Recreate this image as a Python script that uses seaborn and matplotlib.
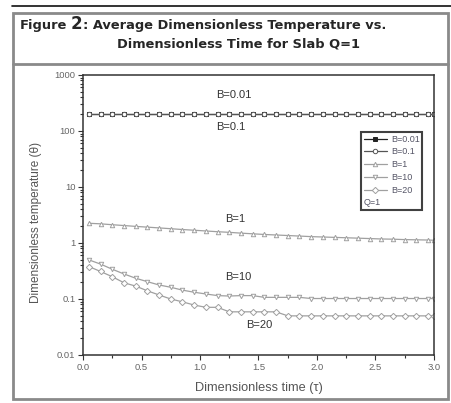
import matplotlib.pyplot as plt
import matplotlib.patches as mpatches
from matplotlib.lines import Line2D
from matplotlib.ticker import MultipleLocator, FixedLocator, LogLocator, NullFormatter
import pandas as pd
import seaborn as sns

sns.set_style("ticks")
plt.rcParams['font.family'] = ['Liberation Sans', 'DejaVu Sans']

# dimensionless time (tau)
tau = [0.05, 0.15, 0.25, 0.35, 0.45, 0.55, 0.65, 0.75, 0.85, 0.95,
       1.05, 1.15, 1.25, 1.35, 1.45, 1.55, 1.65, 1.75, 1.85, 1.95,
       2.05, 2.15, 2.25, 2.35, 2.45, 2.55, 2.65, 2.75, 2.85, 2.95, 3.0]

# average dimensionless temperature for each Biot number
theta_b001 = [205, 205, 205, 205, 205, 205, 205, 205, 205, 205,
              205, 205, 205, 205, 205, 205, 205, 205, 205, 205,
              205, 205, 205, 205, 205, 205, 205, 205, 205, 205, 205]
theta_b01 = [204, 204, 204, 204, 204, 204, 204, 204, 204, 204,
             204, 204, 204, 204, 204, 204, 204, 204, 204, 204,
             204, 204, 204, 204, 204, 204, 204, 204, 204, 204, 204]
theta_b1 = [2.25, 2.2, 2.12, 2.05, 1.98, 1.92, 1.86, 1.8, 1.74, 1.69,
            1.64, 1.59, 1.55, 1.5, 1.46, 1.42, 1.39, 1.36, 1.33, 1.3,
            1.28, 1.26, 1.24, 1.22, 1.2, 1.18, 1.17, 1.15, 1.14, 1.13, 1.12]
theta_b10 = [0.50, 0.42, 0.34, 0.28, 0.235, 0.204, 0.178, 0.162, 0.144, 0.132,
             0.123, 0.115, 0.113, 0.115, 0.115, 0.107, 0.107, 0.107, 0.107, 0.102,
             0.102, 0.102, 0.102, 0.102, 0.102, 0.102, 0.102, 0.102, 0.102, 0.102, 0.102]
theta_b20 = [0.38, 0.31, 0.25, 0.195, 0.17, 0.14, 0.118, 0.10, 0.089, 0.078,
             0.071, 0.071, 0.059, 0.059, 0.059, 0.059, 0.059, 0.05, 0.05, 0.05,
             0.05, 0.05, 0.05, 0.05, 0.05, 0.05, 0.05, 0.05, 0.05, 0.05, 0.05]

labels = ['B=0.01', 'B=0.1', 'B=1', 'B=10', 'B=20']
values = [theta_b001, theta_b01, theta_b1, theta_b10, theta_b20]

rows = []
for lab, vals in zip(labels, values):
    for t, v in zip(tau, vals):
        rows.append({'B': lab, 'tau': t, 'theta': v})
df = pd.DataFrame(rows)

# marker, line colour, face colour
styles = {
    'B=0.01': ('s', '#222222', '#222222'),
    'B=0.1': ('o', '#555555', 'white'),
    'B=1': ('^', '#a0a0a0', 'white'),
    'B=10': ('v', '#a0a0a0', 'white'),
    'B=20': ('D', '#a0a0a0', 'white'),
}

W, H = 452, 403
fig = plt.figure(figsize=(W / 100, H / 100), dpi=100)
ax = fig.add_axes([83 / W, 1 - 355 / H, (434 - 83) / W, (355 - 75) / H])

for lab in labels:
    m, c, fc = styles[lab]
    sub = df[df['B'] == lab]
    sns.lineplot(data=sub, x='tau', y='theta', ax=ax, color=c, marker=m,
                 markersize=3.2, markerfacecolor=fc, markeredgecolor=c,
                 markeredgewidth=0.7, linewidth=0.9, estimator=None, legend=False)

ax.set_yscale('log')
ax.set_ylim(0.01, 1000)
ax.set_xlim(0, 3.0)
ax.yaxis.set_major_locator(FixedLocator([0.01, 0.1, 1, 10, 100, 1000]))
ax.set_yticklabels(['0.01', '0.1', '1', '10', '100', '1000'])
ax.yaxis.set_minor_locator(LogLocator(base=10, subs=range(2, 10)))
ax.yaxis.set_minor_formatter(NullFormatter())
ax.xaxis.set_major_locator(MultipleLocator(0.5))
ax.xaxis.set_minor_locator(MultipleLocator(0.25))
ax.xaxis.set_major_formatter(lambda v, p: f'{v:.1f}')
ax.tick_params(which='both', direction='out', top=False, right=False,
               labelsize=6.8, labelcolor='#666666', color='#333333', width=0.8)
ax.tick_params(which='major', length=3.5, pad=2)
ax.tick_params(which='minor', length=2)
for s in ax.spines.values():
    s.set_color('#333333')
    s.set_linewidth(1.1)

ax.set_xlabel('Dimensionless time (τ)', fontsize=9.2, color='#555555')
ax.set_ylabel('Dimensionless temperature (θ)', fontsize=8.5, color='#555555')
ax.xaxis.set_label_coords(0.5, -0.095)
ax.yaxis.set_label_coords(-0.117, 0.475)

# curve labels
ax.text(1.29, 440, 'B=0.01', ha='center', va='center', fontsize=8, color='#333333')
ax.text(1.26, 118, 'B=0.1', ha='center', va='center', fontsize=8, color='#333333')
ax.text(1.30, 2.7, 'B=1', ha='center', va='center', fontsize=8, color='#333333')
ax.text(1.33, 0.247, 'B=10', ha='center', va='center', fontsize=8, color='#333333')
ax.text(1.51, 0.034, 'B=20', ha='center', va='center', fontsize=8, color='#333333')

# legend
handles = []
for lab in labels:
    m, c, fc = styles[lab]
    handles.append(Line2D([], [], color=c, marker=m, markersize=3.2,
                          markerfacecolor=fc, markeredgecolor=c,
                          markeredgewidth=0.7, linewidth=0.9))
handles.append(Line2D([], [], linestyle='none'))
leg = ax.legend(handles, labels + [' '], loc='upper left',
                bbox_to_anchor=((361 - 83) / 351, 1 - (132 - 75) / 280),
                fontsize=6.5, frameon=True, fancybox=False, handlelength=2.6,
                handletextpad=0.4, labelspacing=0.42, borderpad=0.3,
                borderaxespad=0)
leg.get_frame().set_edgecolor('#111111')
leg.get_frame().set_linewidth(1.5)
for t in leg.get_texts():
    t.set_color('#555566')
ax.annotate('Q=1', xy=(0, 0), xycoords=leg, xytext=(2, 2.5),
            textcoords='offset points', fontsize=6.5, color='#555566',
            ha='left', va='bottom', zorder=10)

# title
tfont = ['DejaVu Sans']
t1 = fig.text(20 / W, 1 - 25 / H, 'Figure', fontsize=9.4, fontweight='bold',
              va='center', family=tfont)
t2 = ax.annotate('2', xy=(1, 0.5), xycoords=t1, xytext=(2.5, 0.5),
                 textcoords='offset points', fontsize=12, fontweight='bold',
                 va='center', ha='left', family=tfont)
ax.annotate(': Average Dimensionless Temperature vs.', xy=(1, 0.5), xycoords=t2,
            xytext=(0.5, -0.5), textcoords='offset points', fontsize=9.4,
            fontweight='bold', va='center', ha='left', family=tfont)
fig.text(117 / W, 1 - 44 / H, 'Dimensionless Time for Slab Q=1', fontsize=9.4,
         fontweight='bold', va='center', family=tfont)

# page frame
fig.add_artist(Line2D([12 / W, 1], [1 - 5.5 / H, 1 - 5.5 / H], color='#111111',
                      linewidth=1.2, transform=fig.transFigure))
fig.add_artist(mpatches.Rectangle((13 / W, 1 - 399 / H), (448 - 13) / W, (399 - 13) / H,
                                  fill=False, edgecolor='#8a8a8a', linewidth=2.0,
                                  transform=fig.transFigure))
fig.add_artist(Line2D([13 / W, 448 / W], [1 - 64 / H, 1 - 64 / H], color='#8a8a8a',
                      linewidth=2.0, transform=fig.transFigure))

fig.savefig('out.png', dpi=100)
